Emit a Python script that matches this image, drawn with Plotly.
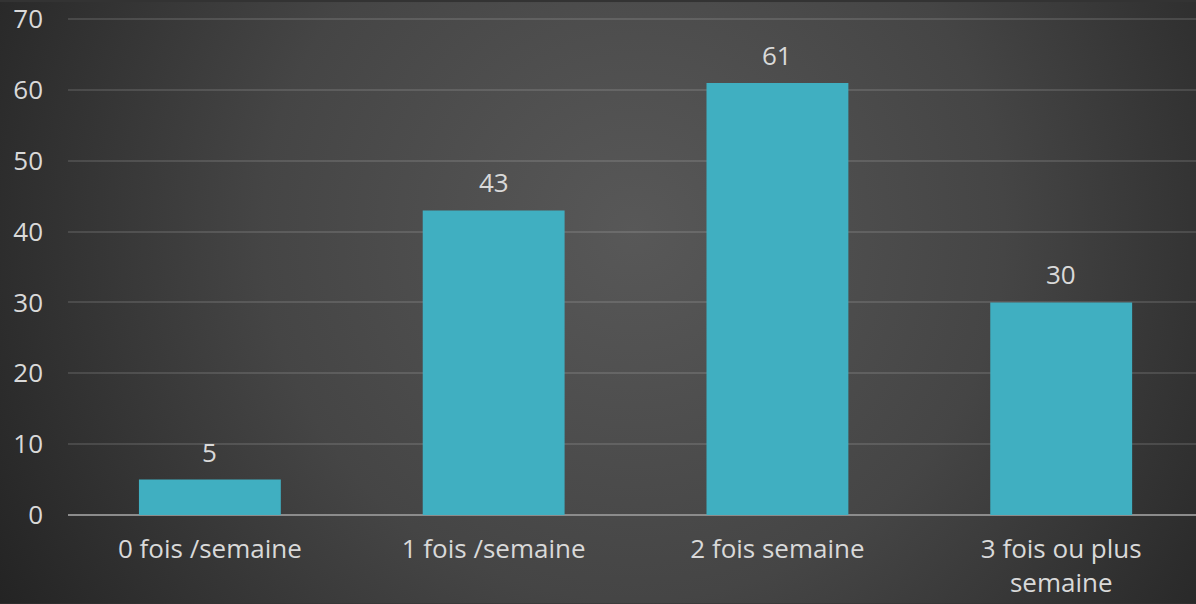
import base64
import plotly.graph_objects as go

categories = ["0 fois /semaine", "1 fois /semaine", "2 fois semaine", "3 fois ou plus<br>semaine"]
values = [5, 43, 61, 30]
y_ticks = [0, 10, 20, 30, 40, 50, 60, 70]

W, H = 1196, 604
ML, MR, MT, MB = 68, 0, 15, 89
PW, PH = W - ML - MR, H - MT - MB

svg = f'''<svg xmlns="http://www.w3.org/2000/svg" width="{W}" height="{H}" viewBox="0 0 {W} {H}">
<defs><radialGradient id="g" cx="{W*0.53}" cy="{H*0.38}" r="{W*0.62}" gradientUnits="userSpaceOnUse">
<stop offset="0" stop-color="#585858"/><stop offset="0.5" stop-color="#454545"/><stop offset="1" stop-color="#232323"/>
</radialGradient></defs>
<rect width="{W}" height="{H}" fill="url(#g)"/></svg>'''
bg_uri = "data:image/svg+xml;base64," + base64.b64encode(svg.encode()).decode()

font_family = "Open Sans, Lato, sans-serif"
text_color = "#d9d9d9"
fs = 26

fig = go.Figure()
fig.add_trace(go.Bar(
    x=list(range(len(categories))),
    y=values,
    width=0.5,
    marker=dict(color="#40afc1", line=dict(width=0)),
    hoverinfo="skip",
))

annotations = [
    dict(x=i, y=v, text=str(v), showarrow=False, xref="x", yref="y",
         yanchor="middle", yshift=28,
         font=dict(size=fs, color=text_color, family=font_family))
    for i, v in enumerate(values)
]

fig.update_layout(
    width=W, height=H,
    margin=dict(l=ML, r=MR, t=MT, b=MB),
    paper_bgcolor="#333333",
    plot_bgcolor="rgba(0,0,0,0)",
    showlegend=False,
    annotations=annotations,
    images=[dict(source=bg_uri, xref="paper", yref="paper",
                 x=-ML / PW, y=1 + MT / PH, sizex=W / PW, sizey=H / PH,
                 xanchor="left", yanchor="top", sizing="stretch", layer="below")],
    xaxis=dict(
        range=[-0.5, 3.475],
        tickmode="array",
        tickvals=list(range(len(categories))),
        ticktext=categories,
        tickfont=dict(size=fs, color=text_color, family=font_family),
        showgrid=False, zeroline=False,
        showline=False, ticks="",
        ticklabelstandoff=16,
        fixedrange=True,
    ),
    yaxis=dict(
        range=[0, 70.3],
        tickmode="array",
        tickvals=y_ticks,
        tickfont=dict(size=fs, color=text_color, family=font_family),
        showgrid=True, gridcolor="rgba(255,255,255,0.12)", gridwidth=2,
        zeroline=True, zerolinecolor="#8c8c8c", zerolinewidth=2,
        showline=False, ticks="",
        ticklabelstandoff=24,
        ticklabeloverflow="allow",
        fixedrange=True,
    ),
)

fig.write_html("out.html", config={"displayModeBar": False},
               post_script="document.body.style.margin='0';document.body.style.overflow='hidden';")
